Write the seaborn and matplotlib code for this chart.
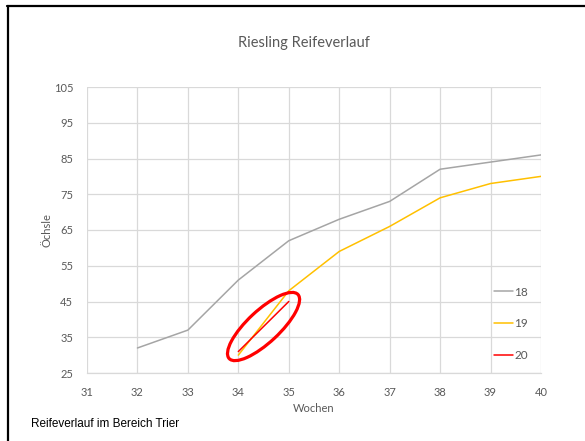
import matplotlib
matplotlib.use("Agg")
import matplotlib.pyplot as plt
import matplotlib.transforms as mtransforms
from matplotlib.patches import Ellipse
from matplotlib.lines import Line2D
import numpy as np
import pandas as pd
import seaborn as sns

# Oechsle readings per calendar week, one series per vintage
weeks_18 = [32, 33, 34, 35, 36, 37, 38, 39, 40]
oechsle_18 = [32, 37, 51, 62, 68, 73, 82, 84, 86]
weeks_19 = [34, 35, 36, 37, 38, 39, 40]
oechsle_19 = [30, 48, 59, 66, 74, 78, 80]
weeks_20 = [34, 35]
oechsle_20 = [31, 45]

vintages = ["18", "19", "20"]
colors = ["#A5A5A5", "#FFC000", "#FF0000"]
x_ticks = list(range(31, 41))
y_ticks = list(range(25, 106, 10))

df = pd.concat([
    pd.DataFrame({"Wochen": weeks_18, "Öchsle": oechsle_18, "Jahr": "18"}),
    pd.DataFrame({"Wochen": weeks_19, "Öchsle": oechsle_19, "Jahr": "19"}),
    pd.DataFrame({"Wochen": weeks_20, "Öchsle": oechsle_20, "Jahr": "20"}),
], ignore_index=True)

sns.set_theme(style="white")
plt.rcParams["font.family"] = ["Lato", "DejaVu Sans"]

fig = plt.figure(figsize=(5.85, 4.41), dpi=100)
ax = fig.add_axes([87 / 585, 1 - 373 / 441, (541 - 87) / 585, (373 - 87) / 441])

sns.lineplot(data=df, x="Wochen", y="Öchsle", hue="Jahr", hue_order=vintages,
             palette=dict(zip(vintages, colors)), linewidth=1.1, ax=ax,
             legend=False, zorder=3)

ax.set_xlim(31, 40)
ax.set_ylim(25, 105)
ax.set_xticks(x_ticks)
ax.set_yticks(y_ticks)
ax.grid(True, color="#D9D9D9", linewidth=0.9)
ax.set_axisbelow(True)
for side in ["top", "right", "left"]:
    ax.spines[side].set_visible(False)
ax.spines["bottom"].set_color("#D9D9D9")
ax.spines["bottom"].set_linewidth(0.9)
ax.tick_params(length=0, labelsize=8, colors="#595959", pad=10)
ax.tick_params(axis="y", pad=10)
ax.set_xlabel("Wochen", fontsize=8, color="#595959", labelpad=4)
ax.set_ylabel("Öchsle", fontsize=8, color="#595959", labelpad=1)

fig.suptitle("Riesling Reifeverlauf", x=0.52, y=0.918, fontsize=10.5,
             color="#595959")

# Legend entries drawn at the right edge of the plot area
handles = [Line2D([], [], color=c, linewidth=1.1) for c in colors]
ax.legend(handles, vintages, loc="upper left", bbox_to_anchor=(483 / 585, 1 - 276 / 441),
          bbox_transform=fig.transFigure, frameon=False, fontsize=8.5,
          handlelength=1.6, handletextpad=0.15, labelspacing=1.75,
          labelcolor="#595959")

# Highlight ring around the current vintage
cx = float(np.mean(weeks_20))
cy = float(np.mean(oechsle_20))
px = fig.dpi / 72.0
ring = Ellipse((0, 0), width=94 * 0.72 * px, height=32 * 0.72 * px, angle=43,
               fill=False, edgecolor="#FF0000", linewidth=2.3,
               transform=mtransforms.Affine2D() + mtransforms.ScaledTranslation(cx, cy, ax.transData),
               zorder=4, clip_on=False)
ax.add_patch(ring)

fig.text(31 / 585, 1 - 424 / 441, "Reifeverlauf im Bereich Trier",
         fontsize=8.5, family="Liberation Sans", color="black", va="center")

# Outer frame, top and left edges
fig.add_artist(Line2D([7 / 585, 1], [1 - 6 / 441, 1 - 6 / 441], transform=fig.transFigure,
                      color="black", linewidth=1.6))
fig.add_artist(Line2D([8 / 585, 8 / 585], [0, 1 - 6 / 441], transform=fig.transFigure,
                      color="black", linewidth=1.6))

fig.savefig("out.png", dpi=100)
